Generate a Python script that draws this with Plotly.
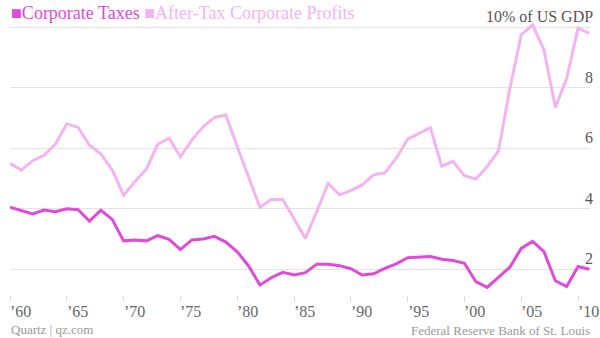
import plotly.graph_objects as go

years = list(range(1960, 2012))

corporate_taxes = [
    4.05, 3.94, 3.83, 3.96, 3.90, 4.00, 3.97, 3.59, 3.95, 3.65,
    2.94, 2.97, 2.94, 3.11, 2.99, 2.65, 2.97, 3.00, 3.09, 2.90,
    2.58, 2.11, 1.48, 1.72, 1.90, 1.81, 1.89, 2.17, 2.17, 2.12,
    2.02, 1.81, 1.85, 2.03, 2.18, 2.38, 2.39, 2.42, 2.33, 2.29,
    2.20, 1.59, 1.40, 1.74, 2.07, 2.69, 2.92, 2.58, 1.62, 1.43,
    2.09, 2.00,
]

after_tax_profits = [
    5.50, 5.28, 5.59, 5.77, 6.14, 6.81, 6.69, 6.10, 5.81, 5.28,
    4.45, 4.90, 5.31, 6.13, 6.33, 5.72, 6.27, 6.71, 7.02, 7.10,
    6.05, 5.06, 4.05, 4.31, 4.31, 3.68, 3.02, 3.90, 4.84, 4.46,
    4.60, 4.79, 5.12, 5.19, 5.67, 6.30, 6.50, 6.68, 5.41, 5.57,
    5.09, 4.98, 5.39, 5.92, 7.98, 9.75, 10.08, 9.25, 7.35, 8.31,
    9.97, 9.80,
]

x_tick_vals = [1960, 1965, 1970, 1975, 1980, 1985, 1990, 1995, 2000, 2005, 2010]
x_tick_text = ["\u201960", "\u201965", "\u201970", "\u201975", "\u201980", "\u201985",
               "\u201990", "\u201995", "\u201900", "\u201905", "\u201910"]
y_tick_vals = [2, 4, 6, 8, 10]
y_tick_text = ["2", "4", "6", "8", "10% of US GDP"]

TAX_COLOR = "#e04ad9"
PROFIT_COLOR = "#f4b4f1"
FONT = "Liberation Serif"

fig = go.Figure()
fig.add_trace(go.Scatter(x=years, y=after_tax_profits, mode="lines",
                         line=dict(color=PROFIT_COLOR, width=3),
                         name="After-Tax Corporate Profits", hoverinfo="skip"))
fig.add_trace(go.Scatter(x=years, y=corporate_taxes, mode="lines",
                         line=dict(color=TAX_COLOR, width=3),
                         name="Corporate Taxes", hoverinfo="skip"))

annotations = [
    dict(xref="paper", yref="paper", x=0, y=1.0, yshift=7, xshift=-1,
         xanchor="left", yanchor="middle", showarrow=False,
         text=f"<span style='color:{TAX_COLOR}'>\u25a0Corporate Taxes</span> "
              f"<span style='color:{PROFIT_COLOR}'>\u25a0After-Tax Corporate Profits</span>",
         font=dict(family=FONT, size=18)),
    dict(xref="paper", yref="paper", x=0, y=0, yshift=-25, xshift=-1,
         xanchor="left", yanchor="top", showarrow=False,
         text="Quartz | qz.com", font=dict(family=FONT, size=13, color="#999999")),
    dict(xref="paper", yref="paper", x=1, y=0, yshift=-26, xshift=2,
         xanchor="right", yanchor="top", showarrow=False,
         text="Federal Reserve Bank of St. Louis", font=dict(family=FONT, size=13, color="#999999")),
]
for v, t in zip(y_tick_vals, y_tick_text):
    annotations.append(dict(xref="paper", yref="y", x=1, y=v, yshift=0, xshift=5,
                            xanchor="right", yanchor="bottom", showarrow=False,
                            text=t, font=dict(family=FONT, size=16, color="#555555")))
for v, t in zip(x_tick_vals, x_tick_text):
    annotations.append(dict(xref="x", yref="paper", x=v, y=0, yshift=-6, xshift=-2,
                            xanchor="left", yanchor="top", showarrow=False,
                            text=t, font=dict(family=FONT, size=16, color="#666666")))

fig.update_layout(
    width=600, height=338,
    margin=dict(l=10, r=10, t=20, b=43),
    paper_bgcolor="white", plot_bgcolor="white",
    showlegend=False,
    font=dict(family=FONT, size=16, color="#555555"),
    xaxis=dict(
        range=[1960, 2011.05],
        tickvals=x_tick_vals, showticklabels=False,
        ticks="outside", ticklen=6, tickcolor="#dddddd", tickwidth=1,
        showgrid=False, zeroline=False, showline=False,
    ),
    yaxis=dict(
        range=[1.15, 10.24],
        side="right",
        tickvals=y_tick_vals, showticklabels=False,
        ticks="",
        showgrid=True, gridcolor="#e3e3e3", gridwidth=1,
        zeroline=False, showline=False,
    ),
    annotations=annotations,
)

fig.write_html("out.html")
